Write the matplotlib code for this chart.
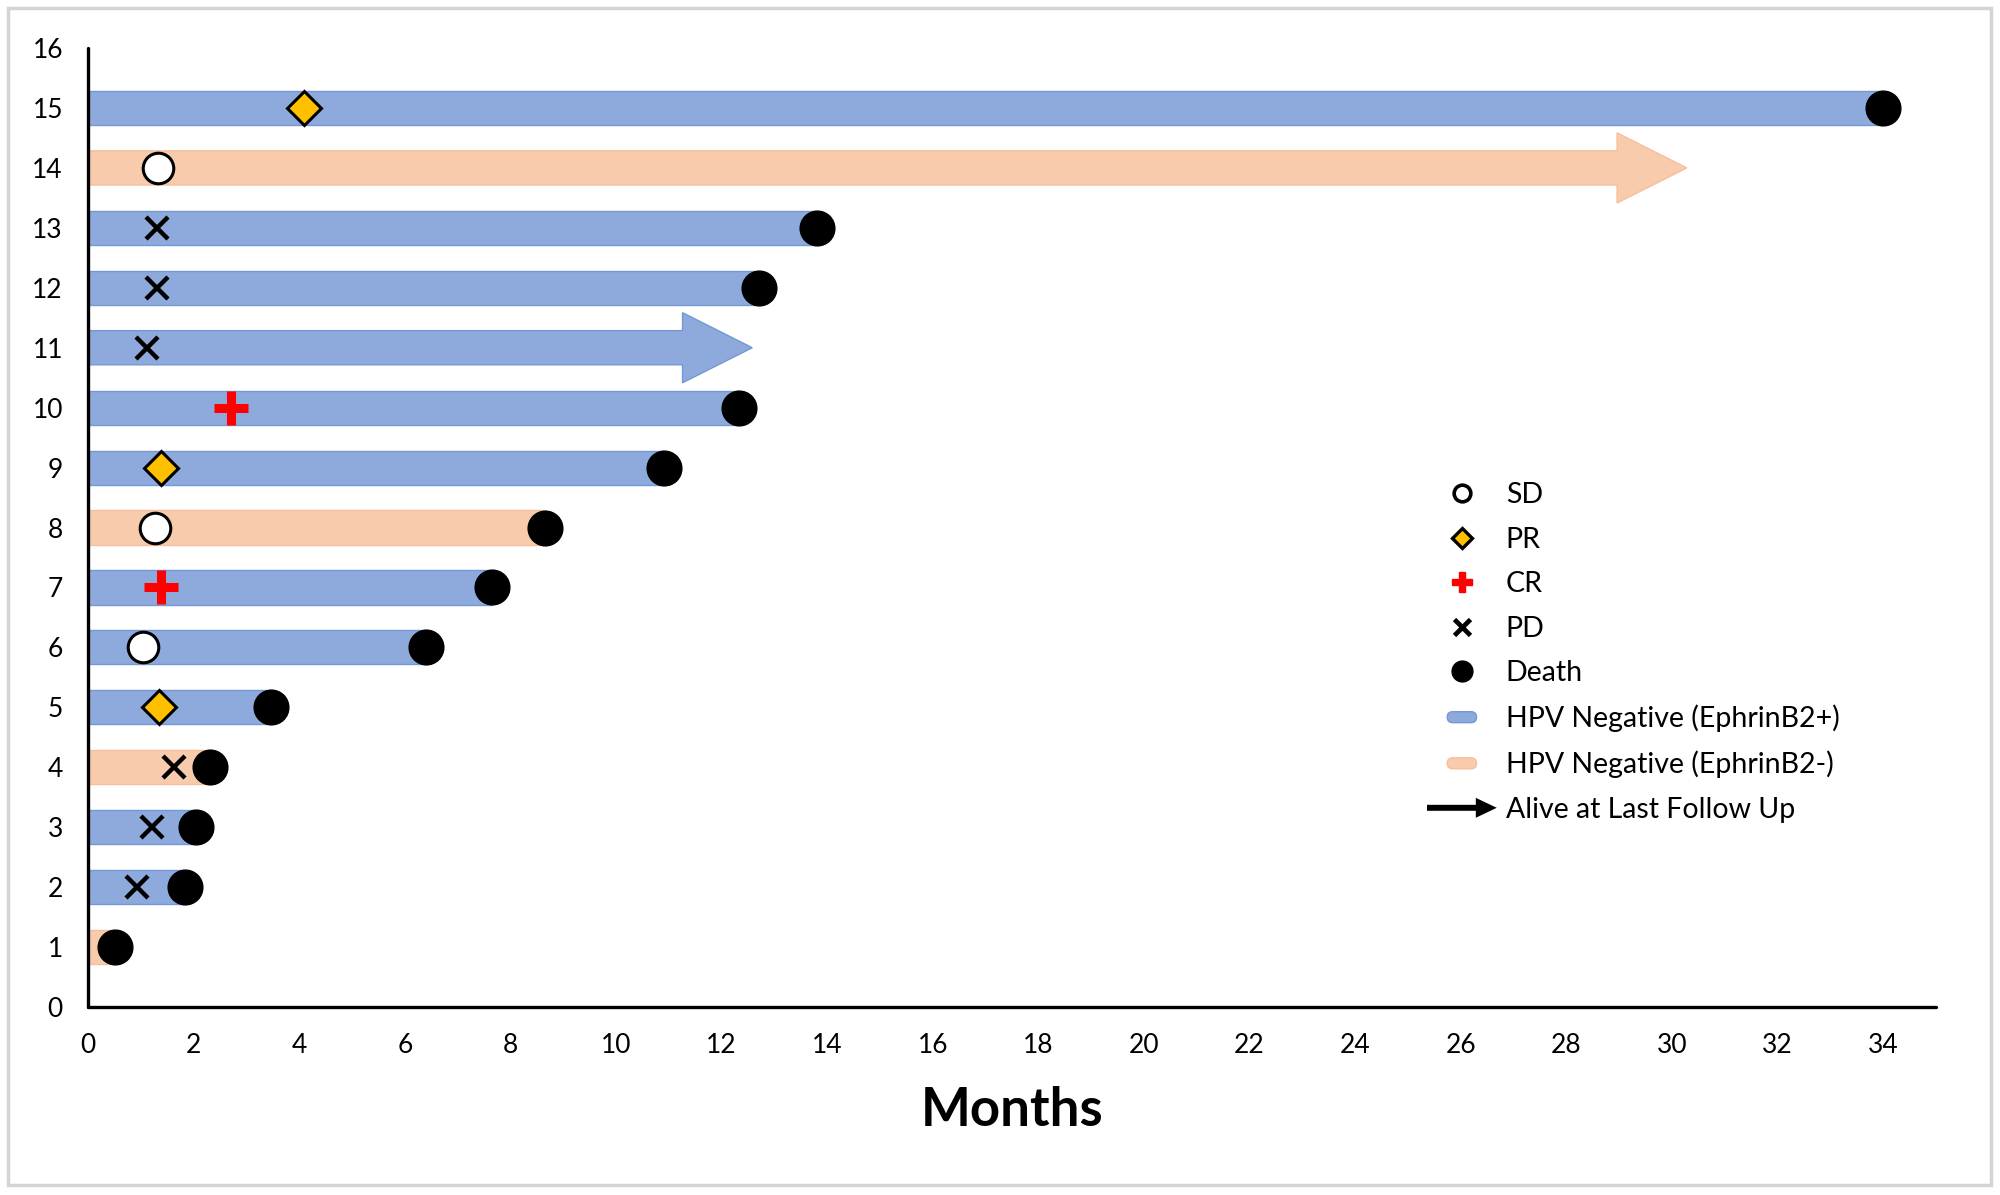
import matplotlib
matplotlib.use("Agg")
import matplotlib.pyplot as plt
from matplotlib.lines import Line2D
from matplotlib.patches import Patch, FancyArrow, FancyBboxPatch, Rectangle
from matplotlib.legend_handler import HandlerPatch

plt.rcParams['font.family'] = ['Lato', 'DejaVu Sans']

# patient rows, bottom to top
patients = list(range(1, 16))
months = [0.51, 1.84, 2.04, 2.31, 3.47, 6.41, 7.65, 8.65, 10.9, 12.33, 12.58, 12.7, 13.8, 30.28, 34.0]
ephrin_pos = [False, True, True, False, True, True, True, False, True, True, True, True, True, False, True]
alive = [False, False, False, False, False, False, False, False, False, False, True, False, False, True, False]

# response assessment: (patient, month)
sd_points = [(6, 1.05), (8, 1.26), (14, 1.32)]
pr_points = [(5, 1.35), (9, 1.38), (15, 4.1)]
cr_points = [(7, 1.38), (10, 2.70)]
pd_points = [(2, 0.92), (3, 1.22), (4, 1.63), (11, 1.11), (12, 1.31), (13, 1.31)]

x_ticks = list(range(0, 35, 2))
y_ticks = list(range(0, 17))

BLUE = '#8eaadc'
BLUE_EDGE = '#7497d6'
ORANGE = '#f8cbad'
ORANGE_EDGE = '#f6bf9c'

fig = plt.figure(figsize=(20, 11.95), dpi=100)
ax = fig.add_axes([0.044, 0.1573, 0.924, 0.8025])

bar_h = 0.57
for p, m, pos, a in zip(patients, months, ephrin_pos, alive):
    fc = BLUE if pos else ORANGE
    ec = BLUE_EDGE if pos else ORANGE_EDGE
    if a:
        arr = FancyArrow(0, p, m, 0, width=bar_h, head_width=1.17, head_length=1.32,
                         length_includes_head=True, facecolor=fc, edgecolor=ec,
                         linewidth=1.0, zorder=2)
        ax.add_patch(arr)
    else:
        ax.barh(p, m, height=bar_h, left=0, color=fc, edgecolor=ec, linewidth=1.0, zorder=2)

dead_y = [p for p, a in zip(patients, alive) if not a]
dead_x = [m for m, a in zip(months, alive) if not a]
ax.plot(dead_x, dead_y, 'o', ms=25, color='black', zorder=5, linestyle='none')

ax.plot([x for _, x in sd_points], [y for y, _ in sd_points], 'o', ms=22, mfc='white',
        mec='black', mew=2.2, linestyle='none', zorder=6)
ax.plot([x for _, x in pr_points], [y for y, _ in pr_points], 'D', ms=17, mfc='#ffc000',
        mec='black', mew=2.2, linestyle='none', zorder=6)
ax.plot([x for _, x in cr_points], [y for y, _ in cr_points], '+', ms=25, color='#ff0000',
        mew=6.5, linestyle='none', zorder=6)
ax.plot([x for _, x in pd_points], [y for y, _ in pd_points], 'x', ms=16, color='black',
        mew=3.2, linestyle='none', zorder=6)

ax.set_xlim(0, 35)
ax.set_ylim(0, 16)
ax.set_xticks(x_ticks)
ax.set_yticks(y_ticks)
ax.tick_params(axis='both', length=0, labelsize=19)
ax.tick_params(axis='x', pad=19)
ax.tick_params(axis='y', pad=18)
for s in ['top', 'right']:
    ax.spines[s].set_visible(False)
for s in ['left', 'bottom']:
    ax.spines[s].set_linewidth(2.4)
    ax.spines[s].set_capstyle('round')

ax.set_xlabel('Months', fontsize=38, fontweight='bold')
ax.xaxis.set_label_coords(0.5, -0.108)
ax.xaxis.label.set_va('center')


def rounded_patch(legend, orig_handle, xdescent, ydescent, width, height, fontsize):
    w = width * 0.42
    h = height * 0.55
    x0 = -xdescent + (width - w) / 2
    y0 = -ydescent + (height - h) / 2
    return FancyBboxPatch((x0, y0), w, h, boxstyle='round,pad=0,rounding_size=%f' % (h / 2),
                          facecolor=orig_handle.get_facecolor(),
                          edgecolor=orig_handle.get_edgecolor(), linewidth=1.0)


def arrow_patch(legend, orig_handle, xdescent, ydescent, width, height, fontsize):
    yc = -ydescent + height / 2
    return FancyArrow(-xdescent, yc, width, 0, width=height * 0.3, head_width=height * 1.0,
                      head_length=width * 0.3, length_includes_head=True, color='black')


handles = [
    Line2D([], [], marker='o', ms=12, mfc='white', mec='black', mew=2.6, linestyle='none'),
    Line2D([], [], marker='D', ms=10, mfc='#ffc000', mec='black', mew=2.4, linestyle='none'),
    Line2D([], [], marker='P', ms=15, color='#ff0000', linestyle='none'),
    Line2D([], [], marker='x', ms=12, color='black', mew=3.4, linestyle='none'),
    Line2D([], [], marker='o', ms=15, color='black', linestyle='none'),
    Patch(facecolor=BLUE, edgecolor=BLUE_EDGE),
    Patch(facecolor=ORANGE, edgecolor=ORANGE_EDGE),
    Patch(facecolor='black'),
]
labels = ['SD', 'PR', 'CR', 'PD', 'Death', 'HPV Negative (EphrinB2+)',
          'HPV Negative (EphrinB2-)', 'Alive at Last Follow Up']
hmap = {handles[5]: HandlerPatch(patch_func=rounded_patch),
        handles[6]: HandlerPatch(patch_func=rounded_patch),
        handles[7]: HandlerPatch(patch_func=arrow_patch)}
fig.legend(handles, labels, handler_map=hmap, loc='upper left',
           bbox_to_anchor=(1427 / 2000, 1 - 482 / 1195), bbox_transform=fig.transFigure,
           frameon=False, fontsize=20.5, handlelength=2.45, handletextpad=0.32,
           labelspacing=0.65, borderpad=0, borderaxespad=0)

fig.patches.append(Rectangle((8 / 2000, 10 / 1195), 1983 / 2000, 1177 / 1195,
                             transform=fig.transFigure, fill=False,
                             edgecolor='#d4d4d4', linewidth=2.5))

fig.savefig('out.png', dpi=100, facecolor='white')
